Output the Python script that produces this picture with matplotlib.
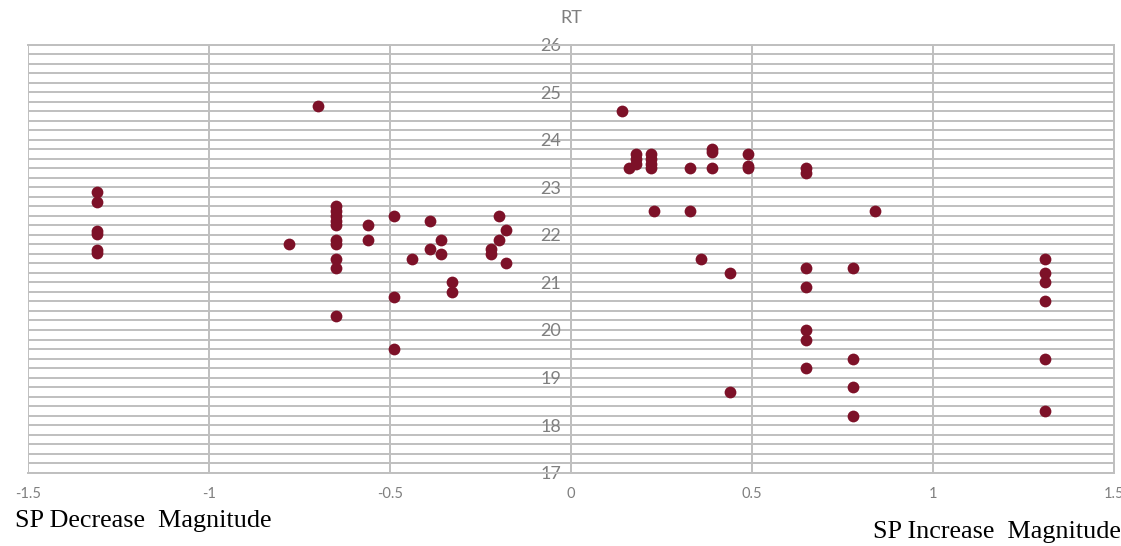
import matplotlib
matplotlib.use("Agg")
import matplotlib.pyplot as plt
from matplotlib.ticker import MultipleLocator, FixedLocator

# SP change magnitude (negative = decrease, positive = increase)
sp_decrease = [-1.31, -1.31, -1.31, -1.31, -1.31, -1.31,
               -0.78, -0.70,
               -0.65, -0.65, -0.65, -0.65, -0.65, -0.65, -0.65, -0.65, -0.65, -0.65,
               -0.56, -0.56,
               -0.49, -0.49, -0.49,
               -0.44,
               -0.39, -0.39,
               -0.36, -0.36,
               -0.33, -0.33,
               -0.22, -0.22,
               -0.20, -0.20,
               -0.18, -0.18]
rt_decrease = [22.9, 22.7, 22.08, 22.02, 21.68, 21.62,
               21.8, 24.7,
               22.6, 22.5, 22.4, 22.3, 22.2, 21.9, 21.8, 21.5, 21.3, 20.3,
               22.2, 21.9,
               22.4, 20.7, 19.6,
               21.5,
               22.3, 21.7,
               21.9, 21.6,
               21.0, 20.8,
               21.7, 21.6,
               22.4, 21.9,
               22.1, 21.4]

sp_increase = [0.14, 0.16,
               0.18, 0.18, 0.18,
               0.22, 0.22, 0.22, 0.22,
               0.23,
               0.33, 0.33,
               0.36,
               0.39, 0.39, 0.39,
               0.44, 0.44,
               0.49, 0.49, 0.49,
               0.65, 0.65, 0.65, 0.65, 0.65, 0.65, 0.65,
               0.78, 0.78, 0.78, 0.78,
               0.84,
               1.31, 1.31, 1.31, 1.31, 1.31, 1.31]
rt_increase = [24.6, 23.4,
               23.7, 23.6, 23.5,
               23.7, 23.6, 23.5, 23.4,
               22.5,
               23.4, 22.5,
               21.5,
               23.8, 23.75, 23.4,
               21.2, 18.7,
               23.7, 23.45, 23.4,
               23.4, 23.3, 21.3, 20.9, 20.0, 19.8, 19.2,
               21.3, 19.4, 18.8, 18.2,
               22.5,
               21.5, 21.2, 21.0, 20.6, 19.4, 18.3]

x_ticks = [-1.5, -1.0, -0.5, 0.0, 0.5, 1.0, 1.5]
x_tick_labels = ["-1.5", "-1", "-0.5", "0", "0.5", "1", "1.5"]
y_ticks = [17, 18, 19, 20, 21, 22, 23, 24, 25, 26]
y_tick_labels = [str(v) for v in y_ticks]

W, H = 1121, 546
fig = plt.figure(figsize=(W / 100, H / 100), dpi=100)
left, right, top, bottom = 28, 1114, 44.6, 472.7
ax = fig.add_axes([left / W, 1 - bottom / H, (right - left) / W, (bottom - top) / H])

grid_col = "#bfbfbf"
label_col = "#7f7f7f"
dot_col = "#7d1128"
sans = ["Lato", "DejaVu Sans"]

ax.scatter(sp_decrease + sp_increase, rt_decrease + rt_increase,
           s=72, color=dot_col, linewidths=0, zorder=3)

ax.set_xlim(-1.5, 1.5)
ax.set_ylim(17, 26)

ax.xaxis.set_major_locator(FixedLocator(x_ticks))
ax.set_xticklabels(x_tick_labels)
ax.yaxis.set_major_locator(FixedLocator(y_ticks))
ax.set_yticklabels(y_tick_labels)
ax.yaxis.set_minor_locator(MultipleLocator(0.2))

ax.grid(True, which="both", axis="y", color=grid_col, linewidth=1.4, zorder=0)
ax.grid(True, which="major", axis="x", color=grid_col, linewidth=1.4, zorder=0)

# vertical value axis crosses at x = 0
ax.spines["left"].set_position(("data", 0))
for side in ["left", "bottom", "top", "right"]:
    ax.spines[side].set_color(grid_col)
    ax.spines[side].set_linewidth(1.4)
ax.spines["left"].set_zorder(1)

ax.tick_params(axis="both", which="both", length=0)
ax.tick_params(axis="y", pad=7, labelsize=13, labelcolor=label_col)
ax.tick_params(axis="x", pad=10, labelsize=10.5, labelcolor=label_col)
for lab in ax.get_xticklabels() + ax.get_yticklabels():
    lab.set_family(sans)

fig.text((left + right) / 2 / W, 1 - 18 / H, "RT", ha="center", va="center",
         fontsize=13, color=label_col, family=sans)

serif = ["Liberation Serif", "DejaVu Serif"]
fig.text(15 / W, 1 - 527 / H, "SP Decrease  Magnitude", ha="left",
         va="baseline", fontsize=18.8, color="black", family=serif)
fig.text(1121 / W, 1 - 538 / H, "SP Increase  Magnitude", ha="right",
         va="baseline", fontsize=18.8, color="black", family=serif)

fig.savefig("out.png", dpi=100)
